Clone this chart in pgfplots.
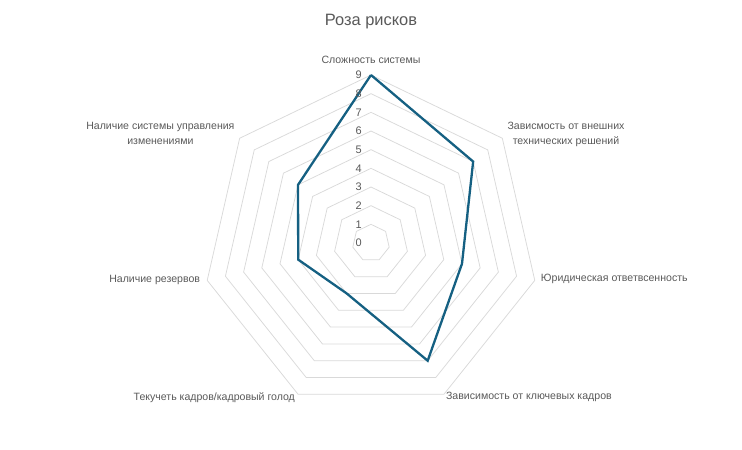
\documentclass[border=0pt]{standalone}
\usepackage{pgfplots}
\pgfplotsset{compat=1.18}
\usepgfplotslibrary{polar}
\usepackage{fontspec}
\setmainfont{Liberation Sans}
\definecolor{txt}{HTML}{595959}
\definecolor{gridc}{HTML}{D9D9D9}
\definecolor{serie}{HTML}{156082}
\tikzset{lab/.style={font=\fontsize{10.6}{14.5}\selectfont, text=txt, inner sep=0pt, align=center}}
\begin{document}
\begin{tikzpicture}
\begin{polaraxis}[
  width=336bp, height=336bp, scale only axis,
  ymin=0, ymax=9, xmin=0, xmax=360,
  hide axis, clip=false,
]
\pgfplotsinvokeforeach{1,...,9}{
  \addplot[draw=gridc, line width=0.75bp, no marks] coordinates {
    (90,#1) (38.5714,#1) (-12.8571,#1) (-64.2857,#1) (-115.7143,#1) (-167.1429,#1) (141.4286,#1) (90,#1)};
}
\addplot[draw=serie, line width=2.3bp, no marks, line join=miter] coordinates {
  (90,9) (38.5714,7) (-12.8571,5) (-64.2857,7) (-115.7143,3) (-167.1429,4) (141.4286,5) (90,9)};
\pgfplotsinvokeforeach{0,...,9}{
  \node[lab, anchor=east, xshift=-9bp, font=\fontsize{11}{13}\selectfont] at (axis cs:90,#1) {#1};
}
\coordinate (c) at (axis cs:0,0);
\node[lab, anchor=south, yshift=11bp] at (axis cs:90,9) {Сложность системы};
\node[lab, anchor=west, xshift=5bp, yshift=4bp] at (axis cs:38.5714,9) {Зависмость от внешних\\технических решений};
\node[lab, anchor=west, xshift=6bp, yshift=1bp] at (axis cs:-12.8571,9) {Юридическая ответвсенность};
\node[lab, anchor=west, xshift=2bp, yshift=-3bp] at (axis cs:-64.2857,9) {Зависимость от ключевых кадров};
\node[lab, anchor=east, xshift=-3bp, yshift=-3bp] at (axis cs:-115.7143,9) {Текучеть кадров/кадровый голод};
\node[lab, anchor=east, xshift=-7bp, yshift=0bp] at (axis cs:-167.1429,9) {Наличие резервов};
\node[lab, anchor=east, xshift=-5bp, yshift=5bp] at (axis cs:141.4286,9) {Наличие системы управления\\изменениями};
\end{polaraxis}
\path ([shift={(-371bp,-207bp)}]c) rectangle ([shift={(371bp,243bp)}]c);
\node[text=txt, font=\fontsize{16.5}{18}\selectfont, anchor=center] at ([shift={(0bp,221bp)}]c) {Роза рисков};
\end{tikzpicture}
\end{document}
